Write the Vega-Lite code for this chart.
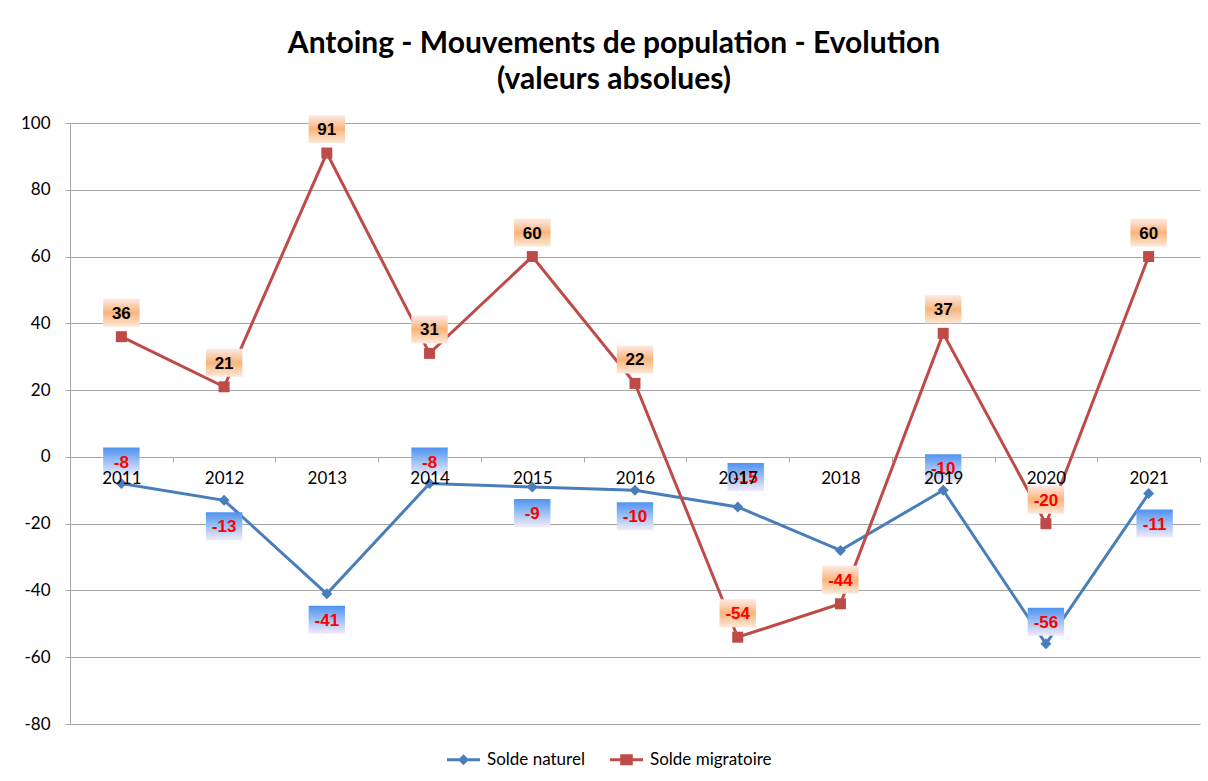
{
  "$schema": "https://vega.github.io/schema/vega-lite/v6.json",
  "width": 1130,
  "height": 601,
  "autosize": {"type": "none"},
  "padding": {"left": 70, "top": 123, "right": 8, "bottom": 57},
  "background": "white",
  "config": {"view": {"stroke": null}, "font": "Lato"},
  "title": {
    "text": ["Antoing - Mouvements de population - Evolution", "(valeurs absolues)"],
    "fontSize": 30,
    "fontWeight": "bold",
    "font": "Lato",
    "color": "black",
    "anchor": "middle",
    "dx": -21,
    "offset": 19,
    "lineHeight": 36
  },
  "data": {
    "values": [
      {"year": "2011", "serie": "Solde naturel", "value": -8},
      {"year": "2012", "serie": "Solde naturel", "value": -13},
      {"year": "2013", "serie": "Solde naturel", "value": -41},
      {"year": "2014", "serie": "Solde naturel", "value": -8},
      {"year": "2015", "serie": "Solde naturel", "value": -9},
      {"year": "2016", "serie": "Solde naturel", "value": -10},
      {"year": "2017", "serie": "Solde naturel", "value": -15},
      {"year": "2018", "serie": "Solde naturel", "value": -28},
      {"year": "2019", "serie": "Solde naturel", "value": -10},
      {"year": "2020", "serie": "Solde naturel", "value": -56},
      {"year": "2021", "serie": "Solde naturel", "value": -11},
      {"year": "2011", "serie": "Solde migratoire", "value": 36},
      {"year": "2012", "serie": "Solde migratoire", "value": 21},
      {"year": "2013", "serie": "Solde migratoire", "value": 91},
      {"year": "2014", "serie": "Solde migratoire", "value": 31},
      {"year": "2015", "serie": "Solde migratoire", "value": 60},
      {"year": "2016", "serie": "Solde migratoire", "value": 22},
      {"year": "2017", "serie": "Solde migratoire", "value": -54},
      {"year": "2018", "serie": "Solde migratoire", "value": -44},
      {"year": "2019", "serie": "Solde migratoire", "value": 37},
      {"year": "2020", "serie": "Solde migratoire", "value": -20},
      {"year": "2021", "serie": "Solde migratoire", "value": 60}
    ]
  },
  "encoding": {
    "x": {
      "field": "year",
      "type": "ordinal",
      "bandPosition": 0.5,
      "scale": {"type": "band", "paddingInner": 0, "paddingOuter": 0},
      "axis": {
        "title": null,
        "orient": "bottom",
        "offset": -267,
        "domain": false,
        "grid": false,
        "zindex": 1,
        "tickBand": "extent",
        "tickSize": 5,
        "tickColor": "#A6A6A6",
        "labelAngle": 0,
        "labelFontSize": 17,
        "labelColor": "black",
        "labelFont": "Lato",
        "labelPadding": 8
      }
    },
    "y": {
      "field": "value",
      "type": "quantitative",
      "scale": {"domain": [-80, 100], "nice": false},
      "axis": {
        "title": null,
        "values": [-80, -60, -40, -20, 0, 20, 40, 60, 80, 100],
        "labelExpr": "'' + datum.value",
        "grid": true,
        "gridColor": "#A6A6A6",
        "domainColor": "#A6A6A6",
        "tickColor": "#A6A6A6",
        "tickSize": 5,
        "labelFontSize": 17,
        "labelColor": "black",
        "labelFont": "Lato",
        "labelPadding": 15
      }
    }
  },
  "layer": [
    {
      "mark": {"type": "line", "strokeWidth": 3},
      "encoding": {
        "color": {
          "field": "serie",
          "type": "nominal",
          "scale": {"domain": ["Solde naturel", "Solde migratoire"], "range": ["#4A7EBB", "#BE4B48"]},
          "legend": {
            "title": null,
            "orient": "none",
            "direction": "horizontal",
            "legendX": 377,
            "legendY": 620,
            "padding": 0,
            "symbolSize": 1089,
            "labelFontSize": 17,
            "labelFont": "Lato",
            "labelColor": "black",
            "labelOffset": 7,
            "columnPadding": 25,
            "encode": {
              "symbols": {
                "update": {
                  "shape": {"signal": "datum.value === 'Solde naturel' ? 'M-1,-0.09L1,-0.09L1,0.09L-1,0.09Z M0,-0.33L0.33,0L0,0.33L-0.33,0Z' : 'M-1,-0.09L1,-0.09L1,0.09L-1,0.09Z M-0.38,-0.33L0.38,-0.33L0.38,0.33L-0.38,0.33Z'"},
                  "fill": {"signal": "datum.value === 'Solde naturel' ? '#4A7EBB' : '#BE4B48'"},
                  "stroke": {"value": "transparent"},
                  "strokeWidth": {"value": 0},
                  "opacity": {"value": 1}
                }
              }
            }
          }
        }
      }
    },
    {
      "transform": [{"filter": "datum.serie === 'Solde naturel'"}],
      "mark": {"type": "point", "filled": true, "opacity": 1, "size": 121, "shape": "diamond", "color": "#4A7EBB"}
    },
    {
      "transform": [{"filter": "datum.serie === 'Solde migratoire'"}],
      "mark": {"type": "point", "filled": true, "opacity": 1, "size": 121, "shape": "square", "color": "#BE4B48"}
    },
    {
      "transform": [{"filter": "datum.serie === 'Solde migratoire'"}],
      "layer": [
        {
          "mark": {
            "type": "point", "filled": true, "opacity": 1, "strokeWidth": 0, "size": 784, "yOffset": -24,
            "shape": "M-1.3,-1L1.3,-1L1.3,1L-1.3,1Z",
            "fill": {"gradient": "linear", "x1": 0, "y1": 0, "x2": 0, "y2": 1,
              "stops": [{"offset": 0, "color": "#FDEAE6"}, {"offset": 0.5, "color": "#F9B47A"}, {"offset": 1, "color": "#FDE9D9"}]}
          }
        },
        {
          "mark": {"type": "text", "font": "Liberation Sans", "fontWeight": "bold", "fontSize": 17, "baseline": "middle", "yOffset": -23},
          "encoding": {
            "text": {"field": "value", "type": "nominal"},
            "color": {"condition": {"test": "datum.value < 0", "value": "#FF0000"}, "value": "black"}
          }
        }
      ]
    },
    {
      "transform": [{"filter": "datum.serie === 'Solde naturel' && indexof(['2011','2014','2019','2020'], datum.year) >= 0"}],
      "layer": [
        {
          "mark": {
            "type": "point", "filled": true, "opacity": 1, "strokeWidth": 0, "size": 784, "yOffset": -22,
            "shape": "M-1.3,-1L1.3,-1L1.3,1L-1.3,1Z",
            "fill": {"gradient": "linear", "x1": 0, "y1": 0, "x2": 0, "y2": 1,
              "stops": [{"offset": 0, "color": "#4F93F0"}, {"offset": 0.5, "color": "#9CC2F4"}, {"offset": 1, "color": "#F5EAF7"}]}
          }
        },
        {
          "mark": {"type": "text", "font": "Liberation Sans", "fontWeight": "bold", "fontSize": 17, "baseline": "middle", "yOffset": -21, "color": "#FF0000"},
          "encoding": {"text": {"field": "value", "type": "nominal"}}
        }
      ]
    },
    {
      "transform": [{"filter": "datum.serie === 'Solde naturel' && datum.year === '2017'"}],
      "layer": [
        {
          "mark": {
            "type": "point", "filled": true, "opacity": 1, "strokeWidth": 0, "size": 784, "yOffset": -30, "xOffset": 8,
            "shape": "M-1.3,-1L1.3,-1L1.3,1L-1.3,1Z",
            "fill": {"gradient": "linear", "x1": 0, "y1": 0, "x2": 0, "y2": 1,
              "stops": [{"offset": 0, "color": "#4F93F0"}, {"offset": 0.5, "color": "#9CC2F4"}, {"offset": 1, "color": "#F5EAF7"}]}
          }
        },
        {
          "mark": {"type": "text", "font": "Liberation Sans", "fontWeight": "bold", "fontSize": 17, "baseline": "middle", "yOffset": -29, "xOffset": 8, "color": "#FF0000"},
          "encoding": {"text": {"field": "value", "type": "nominal"}}
        }
      ]
    },
    {
      "transform": [{"filter": "datum.serie === 'Solde naturel' && indexof(['2012','2013','2015','2016'], datum.year) >= 0"}],
      "layer": [
        {
          "mark": {
            "type": "point", "filled": true, "opacity": 1, "strokeWidth": 0, "size": 784, "yOffset": 26,
            "shape": "M-1.3,-1L1.3,-1L1.3,1L-1.3,1Z",
            "fill": {"gradient": "linear", "x1": 0, "y1": 0, "x2": 0, "y2": 1,
              "stops": [{"offset": 0, "color": "#4F93F0"}, {"offset": 0.5, "color": "#9CC2F4"}, {"offset": 1, "color": "#F5EAF7"}]}
          }
        },
        {
          "mark": {"type": "text", "font": "Liberation Sans", "fontWeight": "bold", "fontSize": 17, "baseline": "middle", "yOffset": 27, "color": "#FF0000"},
          "encoding": {"text": {"field": "value", "type": "nominal"}}
        }
      ]
    },
    {
      "transform": [{"filter": "datum.serie === 'Solde naturel' && datum.year === '2021'"}],
      "layer": [
        {
          "mark": {
            "type": "point", "filled": true, "opacity": 1, "strokeWidth": 0, "size": 784, "yOffset": 30, "xOffset": 6,
            "shape": "M-1.3,-1L1.3,-1L1.3,1L-1.3,1Z",
            "fill": {"gradient": "linear", "x1": 0, "y1": 0, "x2": 0, "y2": 1,
              "stops": [{"offset": 0, "color": "#4F93F0"}, {"offset": 0.5, "color": "#9CC2F4"}, {"offset": 1, "color": "#F5EAF7"}]}
          }
        },
        {
          "mark": {"type": "text", "font": "Liberation Sans", "fontWeight": "bold", "fontSize": 17, "baseline": "middle", "yOffset": 31, "xOffset": 6, "color": "#FF0000"},
          "encoding": {"text": {"field": "value", "type": "nominal"}}
        }
      ]
    }
  ]
}
